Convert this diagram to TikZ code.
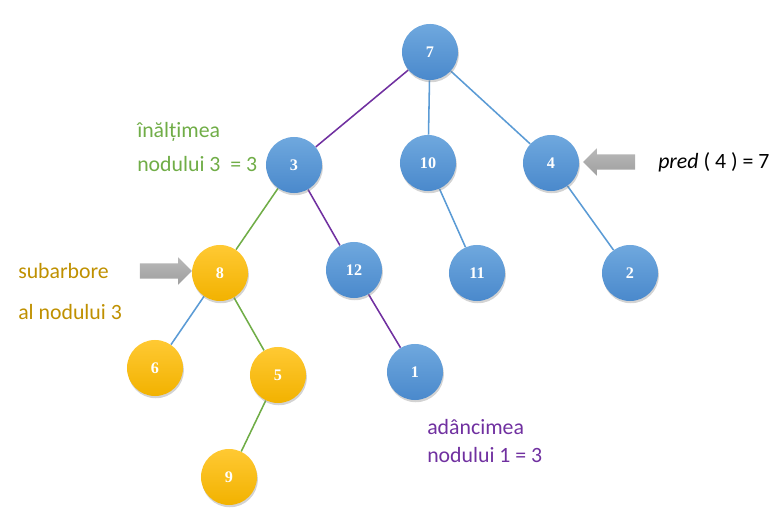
\documentclass[tikz,border=0pt]{standalone}
\usepackage{fontspec}
\setmainfont{Carlito}
\newfontfamily\numfont{Liberation Serif}
\usetikzlibrary{positioning,shadows,backgrounds,shapes.arrows}
\definecolor{treeBlue}{HTML}{5B9BD5}
\definecolor{treeBlueLt}{HTML}{6FA8DE}
\definecolor{treeBlueDk}{HTML}{4A89CC}
\definecolor{treeGold}{HTML}{FFC000}
\definecolor{treeGoldLt}{HTML}{FFC933}
\definecolor{treeGoldDk}{HTML}{F2B200}
\definecolor{treePurple}{HTML}{7030A0}
\definecolor{treeGreen}{HTML}{70AD47}
\definecolor{treeOchre}{HTML}{BF9000}

\begin{document}
\begin{tikzpicture}[x=0.025cm,y=-0.025cm,
    vtx/.style={circle,minimum size=1.4cm,inner sep=0pt,text=white,
                font=\numfont\fontsize{11.5}{12}\selectfont\bfseries,
                drop shadow={opacity=0.35,shadow xshift=0.6pt,shadow yshift=-1.6pt}},
    bvtx/.style={vtx,top color=treeBlueLt,bottom color=treeBlueDk},
    gvtx/.style={vtx,top color=treeGoldLt,bottom color=treeGoldDk},
    link/.style={line width=1.1pt},
    note/.style={anchor=west,inner sep=0pt,font=\fontsize{15.5}{18}\selectfont},
    garrow/.style={single arrow,minimum height=1.3cm,minimum width=0.68cm,
                   inner sep=0pt,text height=0.37cm,single arrow head extend=0.15cm,
                   single arrow head indent=0pt,
                   top color=gray!55,bottom color=gray!75,draw=none}]
  \useasboundingbox (0,0) rectangle (777,517);

  % nodes of the tree
  \node[bvtx] (n7)  at (430,52)  {7};
  \node[bvtx] (n3)  at (294,165) {3};
  \node[bvtx] (n10) at (428,163) {10};
  \node[bvtx] (n4)  at (551,163) {4};
  \node[gvtx] (n8)  at (220,273) {8};
  \node[bvtx] (n12) at (354,270) {12};
  \node[bvtx] (n11) at (477,273) {11};
  \node[bvtx] (n2)  at (630,273) {2};
  \node[gvtx] (n6)  at (155,368) {6};
  \node[gvtx] (n5)  at (278,375) {5};
  \node[bvtx] (n1)  at (415,372) {1};
  \node[gvtx] (n9)  at (229,477) {9};

  % edges
  \begin{scope}[on background layer]
    \draw[link,treePurple] (n7) -- (n3);
    \draw[link,treeBlue]   (n7) -- (n10);
    \draw[link,treeBlue]   (n7) -- (n4);
    \draw[link,treeGreen]  (n3) -- (n8);
    \draw[link,treePurple] (n3) -- (n12);
    \draw[link,treeBlue]   (n10) -- (n11);
    \draw[link,treeBlue]   (n4) -- (n2);
    \draw[link,treeBlue]   (n8) -- (n6);
    \draw[link,treeGreen]  (n8) -- (n5);
    \draw[link,treePurple] (n12) -- (n1);
    \draw[link,treeGreen]  (n5) -- (n9);
  \end{scope}

  % annotations
  \node[garrow,shape border rotate=180] (arrPred) at (613,162) {};
  \node[garrow] (arrSub) at (162,271) {};

  \node[note,text=treeGreen] (hgt1) at (137,132) {înălțimea};
  \node[note,text=treeGreen] (hgt2) at (137,164) {nodului 3\ \ = 3};
  \node[note,text=treeOchre] (sub1) at (18,271) {subarbore};
  \node[note,text=treeOchre] (sub2) at (18,312) {al nodului 3};
  \node[note] (pred) at (658,162) {\textit{pred} ( 4 ) = 7};
  \node[note,text=treePurple] (dep1) at (427,427) {adâncimea};
  \node[note,text=treePurple] (dep2) at (427,455) {nodului 1 = 3};
\end{tikzpicture}
\end{document}
